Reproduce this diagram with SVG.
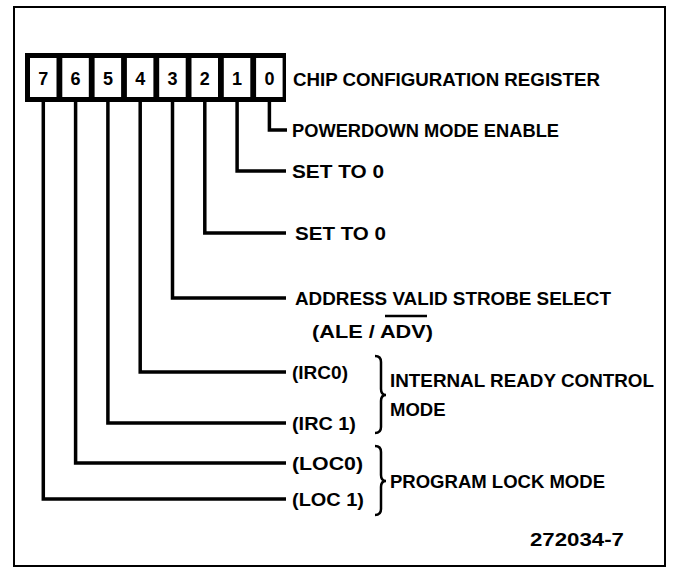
<svg xmlns="http://www.w3.org/2000/svg" width="674" height="571" viewBox="0 0 674 571">
<style>
.t{font-family:"Liberation Sans",Arial,sans-serif;font-weight:bold;font-size:18.5px;fill:#000}
.d{font-family:"Liberation Sans",Arial,sans-serif;font-weight:bold;font-size:18px;fill:#000;text-anchor:middle}
.c{fill:none;stroke:#000;stroke-width:3.5;stroke-linejoin:miter}
.b{fill:none;stroke:#000;stroke-width:2.5}
.cell{fill:#fff}
</style>
<rect width="674" height="571" fill="#fff"/>
<rect id="frame" x="14" y="7" width="651" height="559" fill="none" stroke="#000" stroke-width="2"/>
<g id="register">
<rect x="25" y="53" width="261" height="49" fill="#000"/>
<rect class="cell" x="30" y="58" width="26.5" height="39"/>
<rect class="cell" x="62.3" y="58" width="26.5" height="39"/>
<rect class="cell" x="94.6" y="58" width="26.5" height="39"/>
<rect class="cell" x="126.9" y="58" width="26.5" height="39"/>
<rect class="cell" x="159.2" y="58" width="26.5" height="39"/>
<rect class="cell" x="191.5" y="58" width="26.5" height="39"/>
<rect class="cell" x="223.8" y="58" width="26.5" height="39"/>
<rect class="cell" x="256.1" y="58" width="26.5" height="39"/>
<text class="d" x="43.3" y="85">7</text>
<text class="d" x="75.6" y="85">6</text>
<text class="d" x="107.9" y="85">5</text>
<text class="d" x="140.2" y="85">4</text>
<text class="d" x="172.5" y="85">3</text>
<text class="d" x="204.8" y="85">2</text>
<text class="d" x="237.1" y="85">1</text>
<text class="d" x="269.4" y="85">0</text>
<text class="t" x="293" y="86" textLength="307" lengthAdjust="spacingAndGlyphs">CHIP CONFIGURATION REGISTER</text>
</g>
<g id="connectors">
<path class="c" d="M269.4 102V130H287"/>
<path class="c" d="M237.1 102V171H286"/>
<path class="c" d="M204.8 102V233H286"/>
<path class="c" d="M172.5 102V298H286"/>
<path class="c" d="M140.2 102V372H286"/>
<path class="c" d="M107.9 102V423H286"/>
<path class="c" d="M75.6 102V463H286"/>
<path class="c" d="M43.3 102V499H286"/>
</g>
<g id="bit0"><text class="t" x="292" y="137" textLength="267" lengthAdjust="spacingAndGlyphs">POWERDOWN MODE ENABLE</text></g>
<g id="bit1"><text class="t" x="292" y="178" textLength="92" lengthAdjust="spacingAndGlyphs">SET TO 0</text></g>
<g id="bit2"><text class="t" x="295" y="240" textLength="91" lengthAdjust="spacingAndGlyphs">SET TO 0</text></g>
<g id="bit3">
<text class="t" x="295" y="305" textLength="316" lengthAdjust="spacingAndGlyphs">ADDRESS VALID STROBE SELECT</text>
<text class="t" x="312" y="338" textLength="121" lengthAdjust="spacingAndGlyphs">(ALE / ADV)</text>
<line x1="385" y1="316" x2="427" y2="316" stroke="#000" stroke-width="2.5"/>
</g>
<g id="bit4"><text class="t" x="292" y="379" textLength="56" lengthAdjust="spacingAndGlyphs">(IRC0)</text></g>
<g id="bit5"><text class="t" x="292" y="430" textLength="64" lengthAdjust="spacingAndGlyphs">(IRC 1)</text></g>
<g id="bit6"><text class="t" x="292" y="470" textLength="71" lengthAdjust="spacingAndGlyphs">(LOC0)</text></g>
<g id="bit7"><text class="t" x="292" y="506" textLength="72" lengthAdjust="spacingAndGlyphs">(LOC 1)</text></g>
<g id="irc-group">
<path class="b" d="M375 356Q381 356 381 362L381 389Q381 395 386 395Q381 395 381 401L381 427Q381 433 375 433"/>
<text class="t" x="390" y="387" textLength="264" lengthAdjust="spacingAndGlyphs">INTERNAL READY CONTROL</text>
<text class="t" x="390" y="416">MODE</text>
</g>
<g id="loc-group">
<path class="b" d="M375 446Q381 446 381 452L381 475Q381 481 386 481Q381 481 381 487L381 509Q381 515 375 515"/>
<text class="t" x="390" y="488" textLength="215" lengthAdjust="spacingAndGlyphs">PROGRAM LOCK MODE</text>
</g>
<g id="figref"><text class="t" x="530" y="546" textLength="94" lengthAdjust="spacingAndGlyphs">272034-7</text></g>
</svg>
